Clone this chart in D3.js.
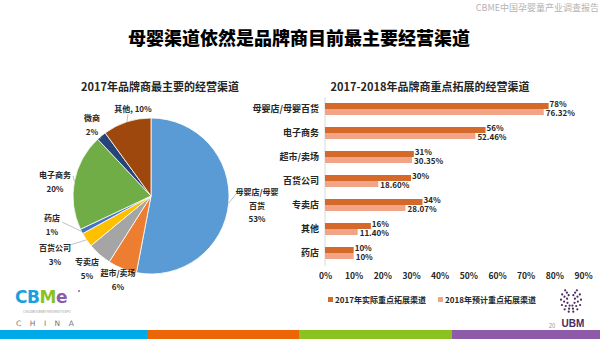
<!DOCTYPE html>
<html><head><meta charset="utf-8">
<script src="https://cdn.jsdelivr.net/npm/d3@7/dist/d3.min.js"></script>
<style>
html,body{margin:0;padding:0;background:#fff;}
svg{display:block;font-family:"Noto Sans CJK SC","Noto Sans",sans-serif;}
</style></head>
<body>
<svg id="c" width="600" height="339"></svg>
<script>
// ---- data ----
const pieCategories = ["母婴店/母婴百货","超市/卖场","专卖店","百货公司","药店","电子商务","微商","其他"];
const pieValues = [53, 6, 5, 3, 1, 20, 2, 10];
const pieLabelLines = [["母婴店/母婴","百货","53%"],["超市/卖场","6%"],["专卖店","5%"],["百货公司","3%"],["药店","1%"],["电子商务","20%"],["微商","2%"],["其他, 10%"]];
const barCategories = ["母婴店/母婴百货","电子商务","超市/卖场","百货公司","专卖店","其他","药店"];
const values2017 = [78, 56, 31, 30, 34, 16, 10];
const values2018 = [76.32, 52.46, 30.35, 18.60, 28.07, 11.40, 10];
const labels2017 = ["78%","56%","31%","30%","34%","16%","10%"];
const labels2018 = ["76.32%","52.46%","30.35%","18.60%","28.07%","11.40%","10%"];
const xTicks = [0, 10, 20, 30, 40, 50, 60, 70, 80, 90];
const seriesNames = ["2017年实际重点拓展渠道","2018年预计重点拓展渠道"];

// ---- styles / layout ----
const pieColors = ["#5B9BD5","#ED7D31","#A5A5A5","#FFC000","#4472C4","#70AD47","#264478","#9E480E"];
const barColors = ["#D4692A","#F2A586"];
const txt = "#262626";
const svg = d3.select("#c");

// header
svg.append("text").attr("x",599).attr("y",11).attr("text-anchor","end")
  .attr("font-size",9).attr("fill","#b3b3b3").text("CBME中国孕婴童产业调查报告");
svg.append("text").attr("x",299).attr("y",45).attr("text-anchor","middle")
  .attr("font-size",18).attr("font-weight",900).attr("fill","#000")
  .text("母婴渠道依然是品牌商目前最主要经营渠道");

// ---- pie ----
svg.append("text").attr("x",160).attr("y",91).attr("text-anchor","middle")
  .attr("font-size",11).attr("font-weight",700).attr("fill",txt)
  .text("2017年品牌商最主要的经营渠道");
const cx = 151, cy = 196, R = 78;
const pie = d3.pie().sort(null).value(d=>d)(pieValues);
const arc = d3.arc().innerRadius(0).outerRadius(R);
const pg = svg.append("g").attr("transform",`translate(${cx},${cy})`);
pg.selectAll("path").data(pie).join("path")
  .attr("d",arc).attr("fill",(d,i)=>pieColors[i])
  .attr("stroke","#fff").attr("stroke-width",0.8);

const pieLabelPos = [
  {x:257, y:195, lx:236, ly:194},
  {x:118, y:276, lx:null},
  {x:87,  y:265, lx:null},
  {x:55,  y:251, lx:70,  ly:245},
  {x:52,  y:221, lx:62,  ly:222},
  {x:55,  y:178, lx:73,  ly:176},
  {x:92,  y:121, lx:100, ly:139},
  {x:133, y:112, lx:128, ly:114}
];
const outerPt = d3.arc().innerRadius(R).outerRadius(R);
pie.forEach((d,i)=>{
  const p = pieLabelPos[i];
  if (p.lx !== null) {
    const c = outerPt.centroid(d);
    svg.append("line").attr("x1",p.lx).attr("y1",p.ly)
      .attr("x2",cx+c[0]).attr("y2",cy+c[1])
      .attr("stroke","#a6a6a6").attr("stroke-width",0.7);
  }
  const t = svg.append("text").attr("x",p.x).attr("y",p.y).attr("text-anchor","middle")
    .attr("font-size",8).attr("font-weight",700).attr("fill",txt);
  pieLabelLines[i].forEach((s,j)=>{
    t.append("tspan").attr("x",p.x).attr("dy",j===0?0:13.5).text(s);
  });
});

// ---- bar chart ----
svg.append("text").attr("x",430).attr("y",91).attr("text-anchor","middle")
  .attr("font-size",11).attr("font-weight",700).attr("fill",txt)
  .text("2017-2018年品牌商重点拓展的经营渠道");
const x = d3.scaleLinear().domain([0,90]).range([325,583]);
const y = d3.scaleBand().domain(barCategories).range([97,265]);
const bh = 6;
svg.append("line").attr("x1",325).attr("x2",325).attr("y1",97).attr("y2",266)
  .attr("stroke","#d9d9d9").attr("stroke-width",1);
const bg = svg.append("g");
bg.selectAll("rect.a").data(values2017).join("rect").attr("class","a")
  .attr("x",x(0)).attr("y",(d,i)=>y(barCategories[i])+y.bandwidth()/2-bh)
  .attr("width",d=>x(d)-x(0)).attr("height",bh).attr("fill",barColors[0]);
bg.selectAll("rect.b").data(values2018).join("rect").attr("class","b")
  .attr("x",x(0)).attr("y",(d,i)=>y(barCategories[i])+y.bandwidth()/2)
  .attr("width",d=>x(d)-x(0)).attr("height",bh).attr("fill",barColors[1]);
bg.selectAll("text.a").data(values2017).join("text").attr("class","a")
  .attr("x",d=>x(d)+1).attr("y",(d,i)=>y(barCategories[i])+y.bandwidth()/2-2.5)
  .attr("font-size",8).attr("font-weight",700).attr("fill",txt)
  .text((d,i)=>labels2017[i]);
bg.selectAll("text.b").data(values2018).join("text").attr("class","b")
  .attr("x",d=>x(d)+2).attr("y",(d,i)=>y(barCategories[i])+y.bandwidth()/2+7)
  .attr("font-size",8).attr("font-weight",700).attr("fill",txt)
  .text((d,i)=>labels2018[i]);
const yAxis = svg.append("g").attr("transform","translate(325,0)")
  .call(d3.axisLeft(y).tickSize(0).tickPadding(6));
yAxis.select(".domain").remove();
yAxis.selectAll("text").attr("font-size",9).attr("font-weight",700).attr("fill",txt)
  .attr("font-family","Noto Sans CJK SC");
const xAxis = svg.append("g").attr("transform","translate(0,269)")
  .call(d3.axisBottom(x).tickValues(xTicks).tickSize(0).tickPadding(4).tickFormat(d=>d+"%"));
xAxis.select(".domain").remove();
xAxis.selectAll("text").attr("font-size",8.5).attr("font-weight",700).attr("fill",txt)
  .attr("font-family","Noto Sans CJK SC");
const legX = [328, 438];
seriesNames.forEach((s,i)=>{
  svg.append("rect").attr("x",legX[i]).attr("y",297).attr("width",5).attr("height",5).attr("fill",barColors[i]);
  svg.append("text").attr("x",legX[i]+7).attr("y",303).attr("font-size",8).attr("font-weight",700)
    .attr("fill",txt).text(s);
});

// ---- footer decorations ----
const stripeColors = ["#00A9E8","#EC6608","#8CC21F","#8E5BA8"];
const stripeX = [0,147,299,452,600];
stripeColors.forEach((c,i)=>{
  svg.append("rect").attr("x",stripeX[i]).attr("y",330).attr("width",stripeX[i+1]-stripeX[i]).attr("height",9).attr("fill",c);
});
const logoT = svg.append("text").attr("x",15).attr("y",303).attr("font-size",17).attr("font-weight",900)
  .attr("font-family","DejaVu Sans").attr("letter-spacing",-0.5);
[["C","#1BA0DC"],["B","#1BA0DC"],["M","#8CC21F"],["e","#8E5BA8"]].forEach(l=>{
  logoT.append("tspan").attr("fill",l[1]).text(l[0]);
});
svg.append("circle").attr("cx",79).attr("cy",291).attr("r",1).attr("fill","#8E5BA8");
svg.append("text").attr("x",47).attr("y",313).attr("text-anchor","middle").attr("font-size",3)
  .attr("fill","#999").text("CHILDREN BABY MATERNITY EXPO");
svg.append("text").attr("x",16).attr("y",326).attr("font-size",7.5).attr("letter-spacing",8.5)
  .attr("fill","#777").attr("font-family","DejaVu Sans").text("CHINA");
const ug = svg.append("g").attr("fill","#4A2A63");
[[4,6],[7,9],[10,12]].forEach(([rx,ry],k)=>{
  const n = 7 + k*2;
  for (let j=0;j<=n;j++){
    const a = Math.PI*(-0.3 + 1.6*j/n);
    ug.append("circle").attr("cx",571+rx*Math.cos(a)).attr("cy",300+ry*Math.sin(a)).attr("r",1.1);
  }
});
svg.append("text").attr("x",573).attr("y",327).attr("text-anchor","middle").attr("font-size",10)
  .attr("font-weight",700).attr("fill","#4A2A63").attr("font-family","Liberation Sans").text("UBM");
svg.append("text").attr("x",552).attr("y",328).attr("text-anchor","middle").attr("font-size",6)
  .attr("fill","#999").text("20");
</script>
</body></html>
